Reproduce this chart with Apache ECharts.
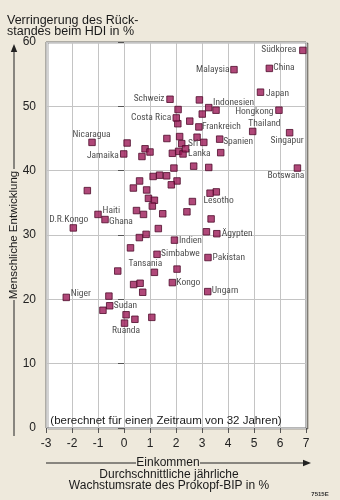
<!DOCTYPE html>
<html>
<head>
<meta charset="utf-8">
<script src="https://cdn.jsdelivr.net/npm/echarts@6/dist/echarts.min.js"></script>
<style>
  html, body { margin: 0; padding: 0; background: #eee9dc; }
  #chart { width: 340px; height: 500px; }
</style>
</head>
<body>
<div id="chart"></div>
<script>
// Named countries: average annual per-capita GDP growth (%) and reduction of the HDI gap (%)
const namedCountries = ['Südkorea', 'Malaysia', 'China', 'Japan', 'Hongkong', 'Thailand', 'Singapur',
  'Indonesien', 'Frankreich', 'Spanien', 'Botswana', 'Schweiz', 'Costa Rica', 'Sri\nLanka',
  'Nicaragua', 'Jamaika', 'Lesotho', 'Ägypten', 'Indien', 'Pakistan', 'Kongo', 'Ungarn',
  'Simbabwe', 'Tansania', 'Haiti', 'Ghana', 'D.R.Kongo', 'Niger', 'Sudan', 'Ruanda'];
const namedGrowth = [6.88, 4.23, 5.59, 5.25, 5.96, 4.95, 6.37,
  3.54, 2.88, 3.68, 6.67, 1.77, 2.01, 2.37,
  -1.23, -0.01, 3.31, 3.57, 1.94, 3.23, 1.86, 3.22,
  1.27, 1.17, -1.0, -0.73, -1.95, -2.22, -0.55, 0.02];
const namedGain = [58.7, 55.7, 55.9, 52.2, 49.4, 46.1, 45.9,
  49.4, 46.8, 44.9, 40.4, 51.1, 48.2, 43.4,
  44.4, 42.6, 36.5, 30.2, 29.2, 26.5, 22.6, 21.2,
  27.0, 24.2, 33.2, 32.4, 31.1, 20.3, 19.0, 16.3];

// Remaining countries without a name tag
const otherGrowth = [3.26, 3.07, 3.72, 3.26, 2.90, 3.01, 2.08, 2.07, 2.53, 1.65,
  2.14, 2.22, 2.81, 2.10, 2.27, 1.86, 2.68, 1.92, 0.12, 0.81,
  1.00, 0.69, 2.04, 1.82, 3.55, 2.63, 2.42, 3.35, 3.17, 2.04,
  1.12, 1.37, 1.64, 0.60, 0.36, 0.87, 0.94, 1.17, 1.09, 0.48,
  0.75, 1.49, 1.32, 0.85, 0.59, 0.25, -1.41, -0.24, 0.37, 0.62,
  0.72, -0.58, -0.81, 0.08, 0.42, 1.07];
const otherGain = [49.8, 44.4, 42.8, 40.5, 51.0, 48.8, 49.5, 47.3, 47.7, 45.0,
  45.3, 44.2, 45.2, 43.0, 42.6, 42.7, 40.7, 40.4, 44.3, 43.4,
  42.9, 42.2, 38.4, 37.8, 36.7, 35.2, 33.6, 32.5, 30.5, 24.7,
  39.1, 39.3, 39.2, 38.4, 37.3, 37.0, 35.7, 35.4, 34.5, 33.8,
  33.2, 33.3, 31.0, 30.1, 29.6, 28.0, 36.9, 24.4, 22.3, 22.5,
  21.1, 20.5, 18.3, 17.6, 16.9, 17.2];

// Axis ticks
const xTicks = { min: -3, max: 7, step: 1 };
const yTicks = { min: 0, max: 60, step: 10 };

// Name tag placement relative to the marker centre: [side, dx, dy]
// side 'r' = text starts right of dx, 'l' = text ends at dx, 'c' = text centred on dx
const tagPlacement = {
  'Südkorea': ['l', -6, 0], 'Malaysia': ['l', -4, 0], 'China': ['r', 4.5, 0],
  'Japan': ['r', 6, 2], 'Hongkong': ['l', -5, 2], 'Thailand': ['r', -4, -7],
  'Singapur': ['c', -2, 8], 'Indonesien': ['r', -2.5, -7], 'Frankreich': ['r', 3.5, 0],
  'Spanien': ['r', 4, 2.5], 'Botswana': ['c', -11, 8], 'Schweiz': ['l', -5, -0.5],
  'Costa Rica': ['l', -4.5, 0], 'Sri\nLanka': ['r', 3, 0.5], 'Nicaragua': ['c', 0, -7.5],
  'Jamaika': ['l', -4.5, 2.5], 'Lesotho': ['c', 9, 8], 'Ägypten': ['r', 5.5, 0.5],
  'Indien': ['r', 5, 0.5], 'Pakistan': ['r', 5, 0.5], 'Kongo': ['r', 4.5, 0.5],
  'Ungarn': ['r', 4.5, 0], 'Simbabwe': ['r', 4.5, -0.5], 'Tansania': ['c', -8.5, -8],
  'Haiti': ['r', 5, -3], 'Ghana': ['r', 4.5, 2.5], 'D.R.Kongo': ['c', -4, -8],
  'Niger': ['r', 5, -3], 'Sudan': ['r', 4.5, 0.5], 'Ruanda': ['c', 2, 8]
};

const tagFont = '"Roboto Condensed", "DejaVu Sans Condensed", sans-serif';
const mainFont = '"Liberation Sans", Arial, Helvetica, sans-serif';
const markerSize = 6.5;
const markerStyle = { color: '#9c1a58', borderColor: '#4e0b2b', borderWidth: 1 };

const namedData = namedCountries.map((name, i) => {
  const p = tagPlacement[name] || ['r', 5, 0];
  const half = markerSize / 2;
  return {
    name: name,
    value: [namedGrowth[i], namedGain[i]],
    label: {
      position: [half + p[1], half + p[2]],
      align: p[0] === 'r' ? 'left' : (p[0] === 'l' ? 'right' : 'center'),
      verticalAlign: 'middle'
    }
  };
});
const otherData = otherGrowth.map((g, i) => [g, otherGain[i]]);

const chart = echarts.init(document.getElementById('chart'), null, { renderer: 'canvas' });

// Arrow helper for the axis captions
function arrowHead(x, y, dir) {
  const s = 3.2, l = 8;
  const pts = dir === 'up'
    ? [[x, y], [x - s, y + l], [x + s, y + l]]
    : [[x, y], [x - l, y - s], [x - l, y + s]];
  return { type: 'polygon', shape: { points: pts }, style: { fill: '#222' }, silent: true };
}

chart.setOption({
  backgroundColor: '#eee9dc',
  animation: false,
  grid: {
    left: 46, top: 42, width: 260, height: 386,
    show: true, backgroundColor: '#ffffff',
    borderColor: '#6e6e6e', borderWidth: 1,
    shadowColor: 'rgba(0,0,0,0.35)', shadowBlur: 0, shadowOffsetX: 2, shadowOffsetY: 1,
    outerBoundsMode: 'none'
  },
  xAxis: {
    type: 'value', min: xTicks.min, max: xTicks.max, interval: xTicks.step,
    axisLine: { show: false },
    axisTick: { show: true, length: 5, lineStyle: { color: '#555' } },
    axisLabel: { margin: 10, fontSize: 12, color: '#222', fontFamily: mainFont },
    splitLine: { show: true, lineStyle: { color: '#c4c4c4', width: 1 } }
  },
  yAxis: {
    type: 'value', min: yTicks.min, max: yTicks.max, interval: yTicks.step,
    axisLine: { show: false },
    axisTick: { show: true, length: 6, lineStyle: { color: '#555' } },
    axisLabel: { margin: 10, fontSize: 12, color: '#222', fontFamily: mainFont },
    splitLine: { show: true, lineStyle: { color: '#c4c4c4', width: 1 } }
  },
  series: [
    {
      type: 'scatter', symbol: 'rect', symbolSize: markerSize,
      itemStyle: markerStyle, data: otherData, z: 3
    },
    {
      type: 'scatter', symbol: 'rect', symbolSize: markerSize,
      itemStyle: markerStyle, data: namedData, z: 4,
      label: {
        show: true, formatter: '{b}', fontSize: 9.5, lineHeight: 9.5,
        color: '#1a1a1a', fontFamily: tagFont
      },
      labelLayout: { hideOverlap: false }
    }
  ],
  graphic: [
    { type: 'text', left: 7, top: 14, silent: true,
      style: { text: 'Verringerung des Rück-\nstandes beim HDI in %', fontSize: 12.5, lineHeight: 11,
        fill: '#1a1a1a', fontFamily: mainFont } },
    // vertical caption with arrow
    { type: 'line', shape: { x1: 14, y1: 436, x2: 14, y2: 300 }, style: { stroke: '#222', lineWidth: 1 }, silent: true },
    { type: 'line', shape: { x1: 14, y1: 169, x2: 14, y2: 52 }, style: { stroke: '#222', lineWidth: 1 }, silent: true },
    arrowHead(14, 44, 'up'),
    { type: 'text', x: 14, y: 235, rotation: Math.PI / 2, silent: true,
      style: { text: 'Menschliche Entwicklung', fontSize: 11.5, fill: '#1a1a1a', fontFamily: mainFont,
        align: 'center', verticalAlign: 'middle' } },
    // horizontal caption with arrow
    { type: 'line', shape: { x1: 46, y1: 463, x2: 136, y2: 463 }, style: { stroke: '#222', lineWidth: 1 }, silent: true },
    { type: 'line', shape: { x1: 200, y1: 463, x2: 304, y2: 463 }, style: { stroke: '#222', lineWidth: 1 }, silent: true },
    arrowHead(311, 463, 'right'),
    { type: 'text', x: 168, y: 463, silent: true,
      style: { text: 'Einkommen', fontSize: 12, fill: '#1a1a1a', fontFamily: mainFont,
        align: 'center', verticalAlign: 'middle' } },
    { type: 'text', x: 169, y: 480, silent: true,
      style: { text: 'Durchschnittliche jährliche\nWachstumsrate des Prokopf-BIP in %', fontSize: 12,
        lineHeight: 11.5, fill: '#1a1a1a', fontFamily: mainFont, align: 'center', verticalAlign: 'middle' } },
    { type: 'text', x: 166, y: 421, silent: true, z: 10,
      style: { text: '(berechnet für einen Zeitraum von 32 Jahren)', fontSize: 11.5, fill: '#1a1a1a',
        fontFamily: mainFont, align: 'center', verticalAlign: 'middle' } },
    { type: 'text', x: 320, y: 494, silent: true,
      style: { text: '7515E', fontSize: 6, fontWeight: 'bold', fill: '#333', fontFamily: mainFont,
        align: 'center', verticalAlign: 'middle' } }
  ]
});
</script>
</body>
</html>
